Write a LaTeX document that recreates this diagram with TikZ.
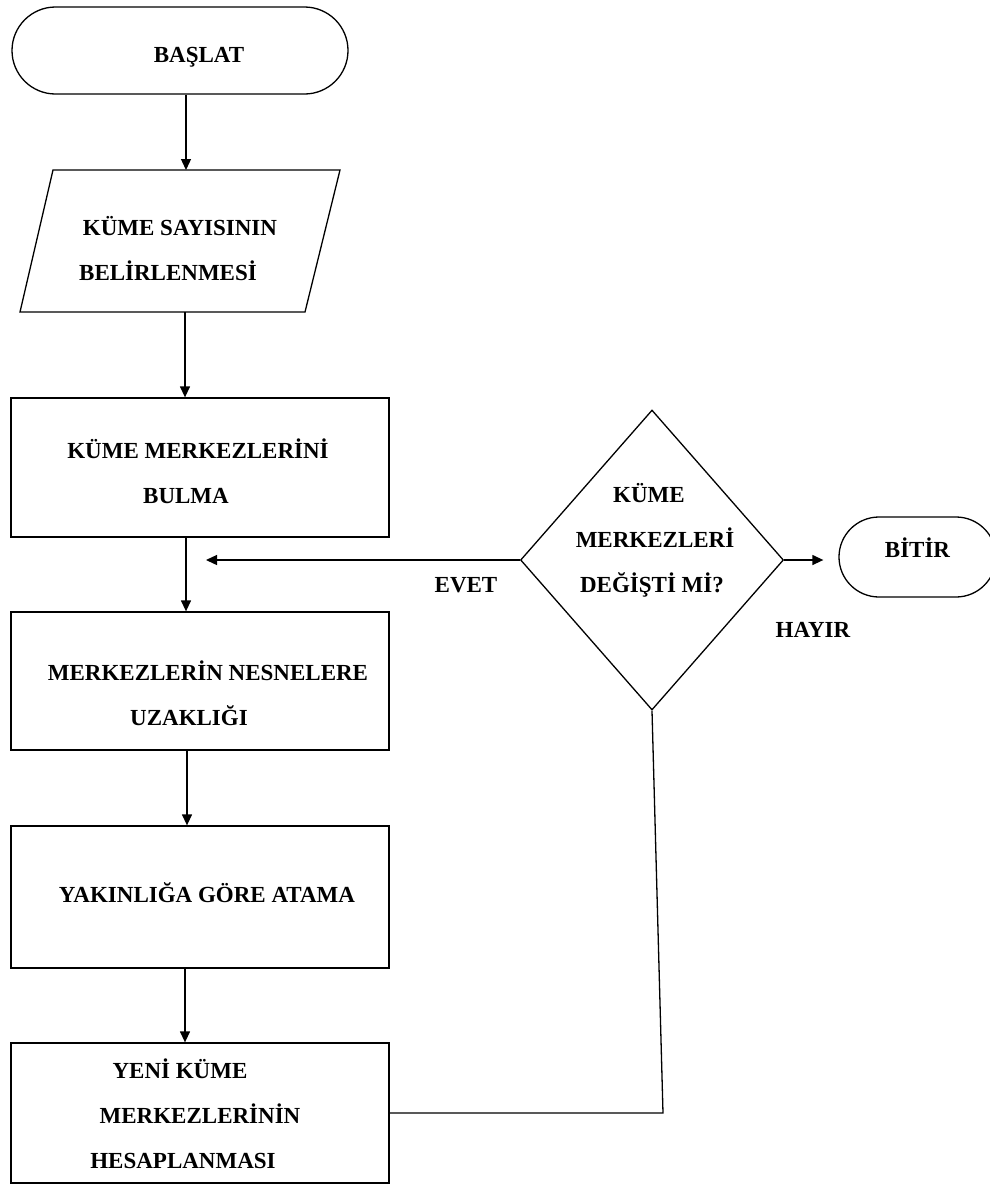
\documentclass[tikz,border=0pt]{standalone}
\usepackage{fontspec}
\setmainfont{Liberation Serif}
\usetikzlibrary{arrows.meta,shapes.geometric}
\newcommand{\mytop}[1]{\rule{0pt}{#1pt}}
\newcommand{\mybot}[1]{\rule[-#1pt]{0pt}{#1pt}}
\begin{document}
\begin{tikzpicture}[x=1pt,y=-1pt,
  every node/.style={font=\fontsize{23}{45}\selectfont\bfseries, inner sep=0pt, align=center},
  term/.style={draw, rectangle, rounded corners=40pt, line width=1.3pt},
  proc/.style={draw, rectangle, line width=1.3pt, minimum width=378pt},
  arr/.style={line width=1.3pt, -{Triangle[length=11pt,width=10pt]}},
  ln/.style={line width=1.3pt}]
\useasboundingbox (0,0) rectangle (990,1187);
% terminal start
\node[term, rounded corners=43.5pt, minimum width=336pt, minimum height=87pt] (start) at (180,50.5) {\hspace*{38pt}\mytop{28}BAŞLAT\mybot{5}};
% input parallelogram
\draw[ln] (53,170) -- (340,170) -- (305,312) -- (20,312) -- cycle;
\coordinate (inN) at (186,170);
\coordinate (inS) at (185,312);
\node (in) at (180,250) {\mytop{20}KÜME SAYISININ\\BELİRLENMESİ\hspace*{24pt}\mybot{5}};
% process boxes
\node[proc, minimum height=139pt] (b1) at (200,467.5) {\mytop{31}KÜME MERKEZLERİNİ\hspace*{4pt}\\BULMA\hspace*{28pt}\mybot{5}};
\node[proc, minimum height=138pt] (b2) at (200,681) {\hspace*{16pt}\mytop{48}MERKEZLERİN NESNELERE\\UZAKLIĞI\hspace*{22pt}\mybot{5}};
\node[proc, minimum height=142pt] (b3) at (200,897) {\hspace*{14pt}\mytop{20}YAKINLIĞA GÖRE ATAMA\mybot{10}};
\node[proc, minimum height=140pt] (b4) at (200,1113) {\mytop{25}YENİ KÜME\hspace*{40pt}\\MERKEZLERİNİN\hspace*{28pt}\\HESAPLANMASI\hspace*{34pt}\mybot{5}};
% decision
\node[draw, diamond, line width=1.3pt, minimum width=263pt, minimum height=300pt] (dec) at (652,560) {};
\node (dectext) at (652,539.5) {\mytop{20}KÜME\hspace*{6pt}\\\hspace*{6pt}MERKEZLERİ\\DEĞİŞTİ Mİ?\mybot{5}};
% end
\node[term, minimum width=157pt, minimum height=80pt] (bitir) at (917.5,557) {\mytop{20}BİTİR\mybot{20}};
% labels
\node[anchor=base] (evet) at (466,592) {EVET};
\node[anchor=base] (hayir) at (813,637) {HAYIR};
% connectors
\draw[arr] ([xshift=6pt]start.south) -- (inN);
\draw[arr] (inS) -- (inS |- b1.north);
\draw[arr] ([xshift=-14pt]b1.south) -- ([xshift=-14pt]b2.north);
\draw[arr] ([xshift=-13pt]b2.south) -- ([xshift=-13pt]b3.north);
\draw[arr] ([xshift=-15pt]b3.south) -- ([xshift=-15pt]b4.north);
\coordinate (evetend) at (206,560);
\draw[arr] (dec.west) -- (evetend);
\draw[arr] (dec.east) -- ([xshift=-15pt]dec.east -| bitir.west);
\coordinate (loopc) at (663,1113);
\draw[ln] (b4.east) -- (loopc) -- (dec.south);
\end{tikzpicture}
\end{document}
